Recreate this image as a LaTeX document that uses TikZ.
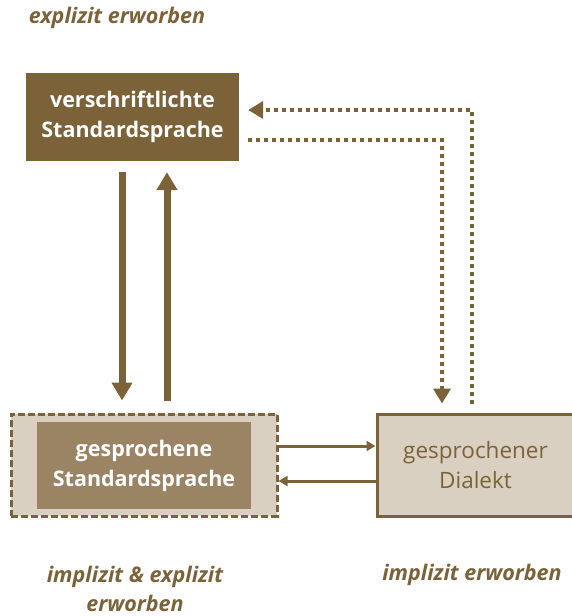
\documentclass[tikz,border=0pt]{standalone}
\usepackage{fontspec}
\setmainfont{Open Sans}
\usetikzlibrary{arrows.meta,calc}
\definecolor{dbrown}{HTML}{7B6238}
\definecolor{mbrown}{HTML}{9A8463}
\definecolor{lbeige}{HTML}{D9D0C2}
\begin{document}
\begin{tikzpicture}[x=1pt,y=-1pt,
  box/.style={inner sep=0pt,align=center,font=\fontsize{22.5}{30}\selectfont},
  boldbox/.style={box,text=white,font=\fontsize{21.5}{30}\selectfont\bfseries},
  lbl/.style={align=center,text=dbrown,font=\fontsize{21.5}{29}\selectfont\bfseries\itshape},
  bigarrow/.style={draw=dbrown,line width=7pt,-{Triangle[width=20pt,length=18pt]}},
  dotarrow/.style={draw=dbrown,line width=4pt,dash pattern=on 4pt off 4pt,-{Triangle[width=17pt,length=15pt]}},
  smallarrow/.style={draw=dbrown,line width=3pt,-{Triangle[width=10pt,length=9pt]}}]
\useasboundingbox (0,0) rectangle (572,616);
\node[boldbox,fill=dbrown,minimum width=213pt,minimum height=88pt] (top) at (132.5,117) {verschriftlichte\\Standardsprache};
\node[box,fill=lbeige,draw=dbrown,line width=3pt,dash pattern=on 7pt off 3pt,minimum width=266pt,minimum height=102pt] (left) at (144,465) {};
\node[boldbox,fill=mbrown,minimum width=214pt,minimum height=87pt] (inner) at (144,465.5) {gesprochene\\Standardsprache};
\node[box,fill=lbeige,draw=dbrown,line width=3pt,text=dbrown,minimum width=197pt,minimum height=102pt] (right) at (475.5,465) {gesprochener\\Dialekt};
\node[lbl] (l1) at (117,18) {explizit erworben};
\node[lbl] (l2) at (135,589) {implizit \& explizit\\erworben};
\node[lbl] (l3) at (472,575) {implizit erworben};
\draw[bigarrow] ([xshift=-10.5pt,yshift=-11pt]top.south) -- ([xshift=-10.5pt,yshift=12pt]top.south |- left.north);
\draw[bigarrow] ([xshift=34.5pt,yshift=12pt]top.south |- left.north) -- ([xshift=34.5pt,yshift=-11pt]top.south);
\draw[dotarrow] ([xshift=-3.5pt,yshift=9pt]right.north) |- ([xshift=9pt,yshift=7pt]top.east);
\draw[dotarrow] ([xshift=9pt,yshift=-23pt]top.east) -| ([xshift=-33.5pt,yshift=9pt]right.north);
\draw[smallarrow] ([yshift=19pt]left.east) -- ([yshift=19pt]left.east -| right.west);
\draw[smallarrow] ([yshift=-16pt]left.east -| right.west) -- ([yshift=-16pt]left.east);
\end{tikzpicture}
\end{document}
